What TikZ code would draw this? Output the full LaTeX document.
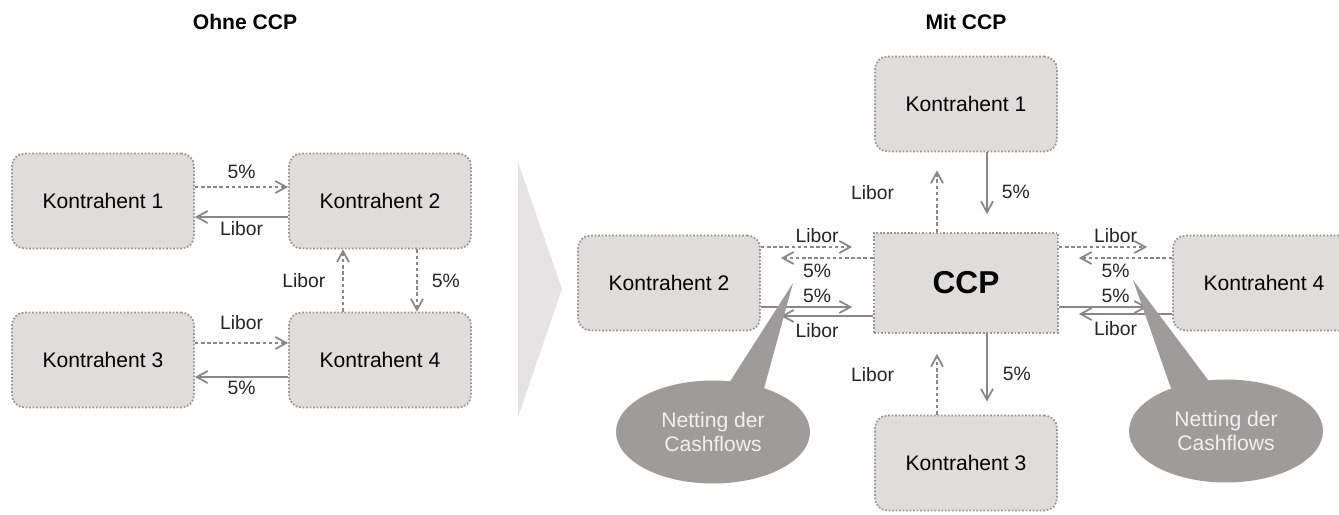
\documentclass[tikz,border=0pt]{standalone}
\usepackage{fontspec}
\setmainfont{Liberation Sans}
\usetikzlibrary{arrows.meta,positioning,calc,shapes.geometric}
\definecolor{cBox}{HTML}{DFDCDC}
\definecolor{cEdge}{HTML}{9A9696}
\definecolor{cLine}{HTML}{8C8787}
\definecolor{cNet}{HTML}{9E9B9B}
\definecolor{cWedge}{HTML}{E5E3E3}

\begin{document}
\begin{tikzpicture}[x=0.02cm,y=-0.02cm,font=\fontsize{12}{14}\selectfont,
   >={Straight Barb[length=2.2mm,width=2.4mm]},
   kbox/.style={draw=cEdge,densely dotted,line width=1pt,fill=cBox,rounded corners=0.25cm,
                minimum width=3.64cm,minimum height=1.9cm,inner sep=0pt},
   ccpbox/.style={kbox,sharp corners,minimum width=3.68cm,minimum height=2cm,
                font=\fontsize{18}{20}\selectfont\bfseries},
   ttl/.style={font=\fontsize{12}{14}\selectfont\bfseries},
   flow/.style={->,cLine,line width=1pt,dash pattern=on 2pt off 1.5pt},
   flowsolid/.style={->,cLine,line width=1pt},
   lbl/.style={font=\fontsize{11}{13}\selectfont,text=black!85,inner sep=2pt},
   net/.style={ellipse,fill=cNet,text=white!94!black,align=center,
                minimum width=3.88cm,minimum height=2.06cm,inner sep=0pt}]
  \clip (0,0) rectangle (1339,514);
  \fill[white] (0,0) rectangle (1339,514);

  % ohne CCP
  \node[ttl] (tohne) at (245,22) {Ohne CCP};
  \node[kbox] (a1) at (103,201) {Kontrahent 1};
  \node[kbox] (a2) at (380,201) {Kontrahent 2};
  \node[kbox] (a3) at (103,360) {Kontrahent 3};
  \node[kbox] (a4) at (380,360) {Kontrahent 4};
  \draw[flow] ($(a1.east)+(0,-14)$) -- node[lbl,above=2pt]{5\%} ($(a2.west)+(0,-14)$);
  \draw[flowsolid] ($(a2.west)+(0,16)$) -- node[lbl,below]{Libor} ($(a1.east)+(0,16)$);
  \draw[flow] ($(a4.north)+(-37,0)$) -- node[lbl,left=7.5pt]{Libor} ($(a2.south)+(-37,0)$);
  \draw[flow] ($(a2.south)+(37,0)$) -- node[lbl,right=6pt]{5\%} ($(a4.north)+(37,0)$);
  \draw[flow] ($(a3.east)+(0,-17)$) -- node[lbl,above=5pt]{Libor} ($(a4.west)+(0,-17)$);
  \draw[flowsolid] ($(a4.west)+(0,17)$) -- node[lbl,below]{5\%} ($(a3.east)+(0,17)$);

  \fill[cWedge] (518,162) -- (562,289) -- (518,417) -- cycle;

  % mit CCP
  \node[ttl] (tmit) at (966,22) {Mit CCP};
  \node[ccpbox] (ccp) at (966,283) {CCP};
  \node[kbox] (b1) at (966,104) {Kontrahent 1};
  \node[kbox] (b2) at (669,283) {Kontrahent 2};
  \node[kbox] (b4) at (1264,283) {Kontrahent 4};
  \node[kbox] (b3) at (966,463) {Kontrahent 3};

  \draw[flow,shorten >=0.42cm] ($(b2.east)+(0,-36)$) -- node[lbl,above]{Libor} ($(ccp.west)+(0,-36)$);
  \draw[flow,shorten >=0.4cm] ($(ccp.west)+(0,-25)$) -- node[lbl,below=1pt]{5\%} ($(b2.east)+(0,-25)$);
  \draw[flowsolid,shorten >=0.42cm] ($(b2.east)+(0,24)$) -- node[lbl,above]{5\%} ($(ccp.west)+(0,24)$);
  \draw[flowsolid,shorten >=0.4cm] ($(ccp.west)+(0,33)$) -- node[lbl,below=2pt]{Libor} ($(b2.east)+(0,33)$);

  \draw[flow,shorten >=0.5cm] ($(ccp.east)+(0,-36)$) -- node[lbl,above]{Libor} ($(b4.west)+(0,-36)$);
  \draw[flow,shorten >=0.4cm] ($(b4.west)+(0,-25)$) -- node[lbl,below=1pt]{5\%} ($(ccp.east)+(0,-25)$);
  \draw[flowsolid,shorten >=0.5cm] ($(ccp.east)+(0,24)$) -- node[lbl,above]{5\%} ($(b4.west)+(0,24)$);
  \draw[flowsolid,shorten >=0.4cm] ($(b4.west)+(0,31)$) -- node[lbl,below=2pt]{Libor} ($(ccp.east)+(0,31)$);

  \draw[flow,shorten >=0.36cm] ($(ccp.north)+(-29,0)$) -- node[lbl,left=0.77cm]{Libor} ($(b1.south)+(-29,0)$);
  \draw[flowsolid,shorten >=0.36cm] ($(b1.south)+(21,0)$) -- node[lbl,right=0.21cm]{5\%} ($(ccp.north)+(21,0)$);
  \draw[flow,shorten >=0.4cm] ($(b3.north)+(-29,0)$) -- node[lbl,left=0.77cm]{Libor} ($(ccp.south)+(-29,0)$);
  \draw[flowsolid,shorten >=0.26cm] ($(ccp.south)+(21,0)$) -- node[lbl,right=0.23cm]{5\%} ($(b3.north)+(21,0)$);

  % Netting
  \coordinate (tip1) at (793,283);
  \coordinate (tip2) at (1133,280);
  \node[net] (n1) at (713,432) {Netting der\\Cashflows};
  \node[net] (n2) at (1226,431) {Netting der\\Cashflows};
  \fill[cNet] (tip1) -- ($(n1.north)+(14,6)$) -- ($(n1.north)+(50,12)$) -- cycle;
  \fill[cNet] (tip2) -- ($(n2.north)+(-54,12)$) -- ($(n2.north)+(-14,6)$) -- cycle;
\end{tikzpicture}
\end{document}
